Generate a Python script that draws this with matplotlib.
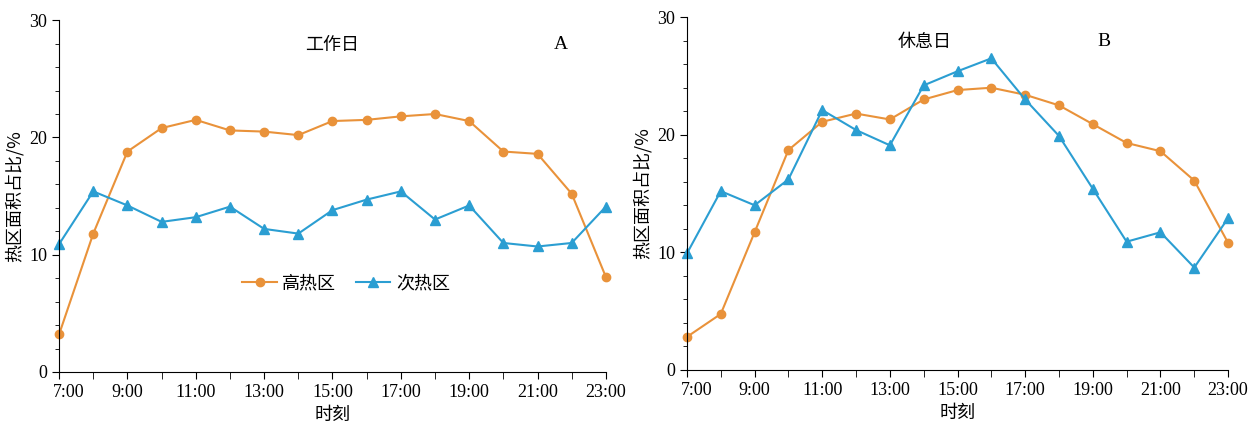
import matplotlib.pyplot as plt
import numpy as np
from matplotlib.ticker import MultipleLocator
from matplotlib.transforms import ScaledTranslation

plt.rcParams['font.family'] = ['Liberation Serif', 'Noto Sans CJK SC']

hours = list(range(7, 24))
tick_labels = ['%d:00' % h for h in range(7, 24, 2)]

# 工作日
work_high = [3.2, 11.8, 18.8, 20.8, 21.5, 20.6, 20.5, 20.2, 21.4, 21.5, 21.8, 22.0, 21.4, 18.8, 18.6, 15.2, 8.1]
work_sub = [10.9, 15.4, 14.2, 12.8, 13.2, 14.1, 12.2, 11.8, 13.8, 14.7, 15.4, 13.0, 14.2, 11.0, 10.7, 11.0, 14.1]
# 休息日
rest_high = [2.8, 4.75, 11.7, 18.7, 21.1, 21.8, 21.3, 23.0, 23.8, 24.0, 23.4, 22.5, 20.9, 19.3, 18.6, 16.1, 10.8]
rest_sub = [9.9, 15.2, 14.0, 16.2, 22.1, 20.4, 19.1, 24.2, 25.4, 26.5, 23.0, 19.9, 15.4, 10.9, 11.7, 8.7, 12.9]

orange = '#E9923A'
blue = '#2B9ED2'
cjk = ['Noto Sans CJK SC']

fig = plt.figure(figsize=(12.57, 4.30), dpi=100)
axA = fig.add_axes([0.047, 0.135, 0.435, 0.818])
axB = fig.add_axes([0.5465, 0.140, 0.4305, 0.820])

def draw(ax, high, sub, title, letter, tx, lx):
    ax.plot(hours, high, color=orange, marker='o', markersize=6, lw=1.5, label='高热区', clip_on=False)
    ax.plot(hours, sub, color=blue, marker='^', markersize=7, lw=1.5, label='次热区', clip_on=False)
    ax.set_xlim(7, 23)
    ax.set_ylim(0, 30)
    ax.set_xticks(hours, minor=True)
    ax.set_xticks(range(7, 24, 2))
    ax.set_xticklabels(tick_labels)
    ax.yaxis.set_major_locator(MultipleLocator(10))
    ax.yaxis.set_minor_locator(MultipleLocator(2))
    ax.tick_params(axis='both', which='major', labelsize=13, length=5, direction='out')
    ax.tick_params(axis='x', which='minor', length=5)
    ax.tick_params(axis='y', which='minor', length=3)
    # first label sits a bit right of the axis corner
    lab = ax.get_xticklabels()[0]
    lab.set_transform(lab.get_transform() + ScaledTranslation(0.1, 0, fig.dpi_scale_trans))
    for s in ['top', 'right']:
        ax.spines[s].set_visible(False)
    ax.set_xlabel('时刻', fontsize=13, family=cjk)
    ax.set_ylabel('热区面积占比/%', fontsize=13, family=cjk)
    ax.text(tx, 0.93, title, transform=ax.transAxes, fontsize=13, family=cjk, ha='center', va='center')
    ax.text(lx, 0.93, letter, transform=ax.transAxes, fontsize=14, ha='center', va='center')

draw(axA, work_high, work_sub, '工作日', 'A', 0.50, 0.917)
draw(axB, rest_high, rest_sub, '休息日', 'B', 0.44, 0.77)

axA.legend(loc='center', bbox_to_anchor=(0.525, 0.253), ncol=2, frameon=False,
           prop={'family': cjk, 'size': 13}, handlelength=1.9, columnspacing=1.1, handletextpad=0.3)

fig.savefig('out.png', dpi=100)
